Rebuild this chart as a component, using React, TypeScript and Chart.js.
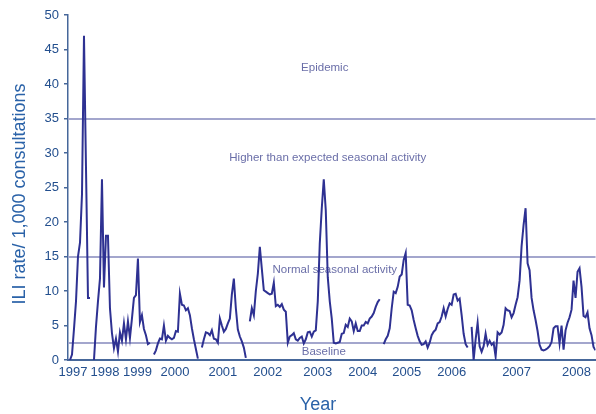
import React, { useEffect, useRef } from 'react';
import { Chart, registerables } from 'chart.js';

Chart.register(...registerables);

// Year tick labels and the week index where each is placed
const yearLabels = ['1997', '1998', '1999', '2000', '2001', '2002', '2003', '2004', '2005', '2006', '2007', '2008'];
const yearTickWeeks = [2.5, 18.5, 34.75, 53.5, 77.5, 100, 125, 147.5, 169.5, 192, 224.5, 254.5];

// Activity thresholds (ILI rate per 1,000 consultations)
const thresholds = [35, 15, 2.4];

// Zone annotations
const zoneLabels = ['Epidemic', 'Higher than expected seasonal activity', 'Normal seasonal activity', 'Baseline'];
const zoneLabelWeeks = [128.5, 130, 133.5, 128];
const zoneLabelValues = [42.3, 29.3, 13.0, 1.2];

// Weekly ILI rate (null = no surveillance / gap)
const iliRate: (number | null)[] = [
  null, 0, 0.8, 4.5, 8.5, 15, 17, 24, 47, 28,
  9, 9, null, 0, 4.8, 8.5, 11.8, 26.2, 10.5, 18,
  18, 7.5, 3.9, 1.7, 3.1, 1.2, 4, 2.8, 5.3, 3,
  5.6, 3.2, 6, 9, 9.4, 14.7, 5.5, 6.5, 4.5, 3.6,
  2.3, 2.5, null, 0.8, 1.4, 2.4, 3.1, 3, 5, 2.8,
  3.5, 3.2, 3, 3.2, 4.2, 4.1, 9.6, 8, 7.9, 7.2,
  7.5, 6.5, 4.6, 3, 1.6, 0.2, null, 1.8, 3, 4,
  3.9, 3.6, 4.3, 3.1, 3, 2.5, 6, 5, 4.1, 4.5,
  5.3, 6, 9.5, 11.8, 7.5, 4.4, 3.4, 2.7, 1.8, 0.3,
  null, 5.6, 7.5, 6.5, 10, 12.5, 16.4, 13.2, 10.1, 9.9,
  9.7, 9.5, 9.6, 11.2, 7.8, 8, 7.7, 8.1, 7.3, 7,
  2.5, 3.4, 3.6, 3.9, 3, 2.8, 3.2, 3.4, 2.4, 3,
  4, 4.1, 3.4, 4.1, 4.3, 8.5, 16.9, 22, 26.2, 21.7,
  12, 8.5, 6, 2.5, 2.4, 2.5, 2.6, 3.8, 3.9, 5.1,
  4.8, 6, 5.6, 4.2, 5.3, 4.2, 4.2, 5, 5, 5.5,
  5.3, 6, 6.3, 6.8, 7.7, 8.4, 8.8, null, 2.3, 3,
  3.5, 4.6, 7.5, 9.9, 9.7, 10.6, 12.1, 12.4, 14.5, 15.5,
  8, 7.9, 7.2, 5.8, 4.6, 3.5, 2.7, 2.2, 2.3, 2.7,
  1.8, 2.5, 3.6, 4.1, 4.4, 5.3, 5.5, 6.3, 7.5, 6.3,
  7.4, 8.2, 8, 9.5, 9.6, 8.6, 8.9, 6.5, 3.8, 2.3,
  1.8, null, 4.8, 0, 3, 5.4, 2, 1.2, 2, 3.8,
  2.2, 2.8, 2.2, 2.5, 0.5, 4, 3.7, 4, 5.1, 7.5,
  7.2, 7.1, 6.2, 6.8, 8, 9.1, 11.5, 16.5, 19.6, 22,
  14, 13, 9, 7.2, 5.8, 4.2, 2.2, 1.5, 1.4, 1.5,
  1.7, 2, 2.6, 4.6, 4.9, 4.9, 2.4, 5, 1.5, 4.3,
  5.4, 6.2, 7.3, 11.5, 9, 12.8, 13.3, 10.6, 6.4, 6.2,
  6.9, 4.6, 3.6, 1.9, 1.4,
];

const FONT = "'Liberation Sans', Arial, Helvetica, sans-serif";
const LINE_COLOR = '#2e3192';
const AXIS_COLOR = '#46679a';
const TICK_COLOR = '#234f8e';
const TITLE_COLOR = '#2a62a8';
const ZONE_COLOR = '#a3a6cd';
const ZONE_TEXT = '#6a6ea8';

const zonePlugin = {
  id: 'zones',
  beforeDatasetsDraw(chart: any) {
    const { ctx, chartArea, scales } = chart;
    const x = scales.x;
    const y = scales.y;
    ctx.save();
    ctx.strokeStyle = ZONE_COLOR;
    ctx.lineWidth = 2;
    thresholds.forEach((t) => {
      const py = Math.round(y.getPixelForValue(t));
      ctx.beginPath();
      ctx.moveTo(chartArea.left, py);
      ctx.lineTo(chartArea.right, py);
      ctx.stroke();
    });
    ctx.fillStyle = ZONE_TEXT;
    ctx.font = `11.5px ${FONT}`;
    ctx.textAlign = 'center';
    ctx.textBaseline = 'middle';
    zoneLabels.forEach((lab, i) => {
      ctx.fillText(lab, x.getPixelForValue(zoneLabelWeeks[i]), y.getPixelForValue(zoneLabelValues[i]));
    });
    ctx.restore();
  },
  afterDraw(chart: any) {
    const { ctx, chartArea } = chart;
    ctx.save();
    ctx.fillStyle = TITLE_COLOR;
    ctx.font = `18px ${FONT}`;
    ctx.textAlign = 'center';
    ctx.textBaseline = 'middle';
    ctx.fillText('Year', 318, 405);
    ctx.translate(20, 194);
    ctx.rotate(-Math.PI / 2);
    ctx.fillText('ILI rate/ 1,000 consultations', 0, 0);
    ctx.restore();
  },
};

export default function App() {
  const ref = useRef<HTMLCanvasElement | null>(null);

  useEffect(() => {
    if (!ref.current) return;
    const points = iliRate.map((v, i) => ({ x: i, y: v }));
    const chart = new Chart(ref.current, {
      type: 'line',
      data: {
        datasets: [
          {
            data: points as any,
            borderColor: LINE_COLOR,
            borderWidth: 2,
            pointRadius: 0,
            tension: 0,
            spanGaps: false,
            fill: false,
          },
        ],
      },
      options: {
        responsive: false,
        animation: false,
        layout: { padding: { top: 15, right: 0, left: 0, bottom: 0 } },
        plugins: {
          legend: { display: false },
          tooltip: { enabled: false },
        },
        scales: {
          x: {
            type: 'linear',
            min: 0,
            max: iliRate.length - 1,
            afterBuildTicks: (scale: any) => {
              scale.ticks = yearTickWeeks.map((v) => ({ value: v }));
            },
            afterFit: (scale: any) => {
              scale.height = 54;
            },
            ticks: {
              autoSkip: false,
              maxRotation: 0,
              padding: 5,
              color: TICK_COLOR,
              font: { family: FONT, size: 13 },
              callback: (_v: any, index: number) => yearLabels[index],
            },
            grid: { display: false, drawTicks: false },
            border: { display: true, color: AXIS_COLOR, width: 2 },
          },
          y: {
            min: 0,
            max: 50,
            afterFit: (scale: any) => {
              scale.width = 68;
            },
            ticks: {
              stepSize: 5,
              padding: 5,
              color: TICK_COLOR,
              font: { family: FONT, size: 13 },
            },
            grid: { drawOnChartArea: false, drawTicks: true, tickLength: 4, color: AXIS_COLOR, lineWidth: 1.5 },
            border: { display: true, color: AXIS_COLOR, width: 1.5 },
          },
        },
      },
      plugins: [zonePlugin],
    });
    return () => chart.destroy();
  }, []);

  return (
    <div style={{ position: 'absolute', left: 0, top: 0, width: 596, height: 414, background: '#ffffff' }}>
      <canvas ref={ref} width={596} height={414} />
    </div>
  );
}
